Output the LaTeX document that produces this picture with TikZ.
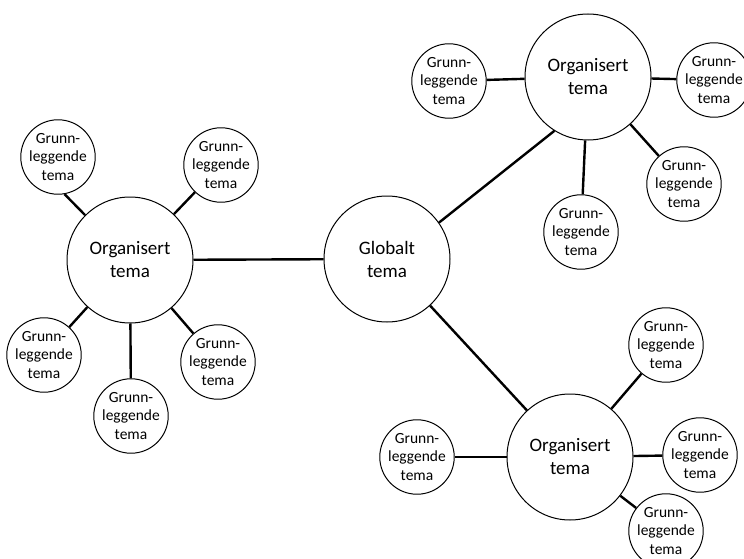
\documentclass[tikz,border=0pt]{standalone}
\usepackage{fontspec}
\setmainfont{Carlito}
\tikzset{
  bigtema/.style={circle,draw,line width=1pt,fill=white,minimum size=126pt,inner sep=0pt,align=center,font=\fontsize{19}{23}\selectfont},
  smalltema/.style={circle,draw,line width=1pt,fill=white,minimum size=66pt,inner sep=0pt,align=center,font=\fontsize{15.5}{18.5}\selectfont},
  conn/.style={line width=2.4pt}
}
\begin{document}
\begin{tikzpicture}[x=1pt,y=-1pt]
  \useasboundingbox (0,0) rectangle (744,559);

  %global
  \node[bigtema] (glob) at (387,259) {Globalt\\tema};

  %organized
  \node[bigtema] (orgL) at (130,260) {Organisert\\tema}; %left
  \node[bigtema] (orgT) at (588,77) {Organisert\\tema}; %top
  \node[bigtema] (orgB) at (570,457) {Organisert\\tema}; %bottom

  %basic, left
  \node[smalltema] (gL1) at (58,157) {Grunn-\\leggende\\tema};
  \node[smalltema] (gL2) at (221,165) {Grunn-\\leggende\\tema};
  \node[smalltema] (gL3) at (44,355) {Grunn-\\leggende\\tema};
  \node[smalltema] (gL4) at (131,416) {Grunn-\\leggende\\tema};
  \node[smalltema] (gL5) at (218,362) {Grunn-\\leggende\\tema};

  %basic, top
  \node[smalltema] (gT1) at (449,81) {Grunn-\\leggende\\tema};
  \node[smalltema] (gT2) at (714,80) {Grunn-\\leggende\\tema};
  \node[smalltema] (gT3) at (684,184) {Grunn-\\leggende\\tema};
  \node[smalltema] (gT4) at (581,232) {Grunn-\\leggende\\tema};

  %basic, bottom
  \node[smalltema] (gB1) at (417,457) {Grunn-\\leggende\\tema};
  \node[smalltema] (gB2) at (666,345) {Grunn-\\leggende\\tema};
  \node[smalltema] (gB3) at (700,455) {Grunn-\\leggende\\tema};
  \node[smalltema] (gB4) at (666,531) {Grunn-\\leggende\\tema};

  %lines from global
  \draw[conn] (glob) -- (orgL);
  \draw[conn] (glob.35) -- (orgT.238);
  \draw[conn] (glob) -- (orgB);

  %lines, left
  \draw[conn] (orgL.135) -- (gL1.-80);
  \draw[conn] (orgL) -- (gL2);
  \draw[conn] (orgL) -- (gL3);
  \draw[conn] (orgL) -- (gL4);
  \draw[conn] (orgL) -- (gL5);

  %lines, top
  \draw[conn] (orgT) -- (gT1);
  \draw[conn] (orgT) -- (gT2);
  \draw[conn] (orgT) -- (gT3);
  \draw[conn] (orgT) -- (gT4);

  %lines, bottom
  \draw[conn] (orgB) -- (gB1);
  \draw[conn] (orgB) -- (gB2);
  \draw[conn] (orgB) -- (gB3);
  \draw[conn] (orgB) -- (gB4);
\end{tikzpicture}
\end{document}
